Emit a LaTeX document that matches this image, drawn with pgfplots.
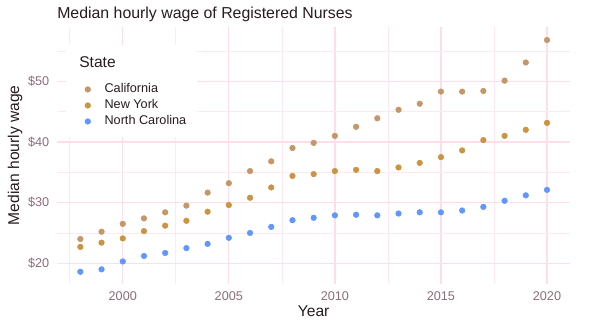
\documentclass[border=0pt]{standalone}
\usepackage{pgfplots}
\pgfplotsset{compat=1.18}
\usepackage{fontspec}
\setmainfont{Liberation Sans}
\definecolor{caC}{RGB}{196,150,104}
\definecolor{nyC}{RGB}{203,148,64}
\definecolor{ncC}{RGB}{98,150,255}
\definecolor{gridM}{RGB}{255,222,232}
\definecolor{gridm}{RGB}{255,232,240}
\definecolor{tickC}{RGB}{139,107,122}
\definecolor{txtC}{RGB}{40,28,34}
\begin{document}
\begin{tikzpicture}
\path[use as bounding box] (0,0) rectangle (442.5pt,252pt);
\begin{axis}[
 at={(42.75pt,39.3pt)}, anchor=south west,
 scale only axis, width=385pt, height=192.45pt,
 xmin=1996.9, xmax=2021.1, ymin=16.65, ymax=58.95,
 axis line style={draw=none}, tick style={draw=none},
 xtick={2000,2005,2010,2015,2020}, xticklabels={2000,2005,2010,2015,2020},
 minor xtick={1997.5,2002.5,2007.5,2012.5,2017.5},
 ytick={20,30,40,50}, yticklabels={\$20,\$30,\$40,\$50},
 minor ytick={25,35,45,55},
 grid=both,
 major grid style={gridM, line width=1.0pt},
 minor grid style={gridm, line width=0.5pt},
 ticklabel style={font=\fontsize{9.5}{11}\selectfont, text=tickC},
 xticklabel style={anchor=north, inner sep=0pt, yshift=-6pt},
 yticklabel style={anchor=east, inner sep=0pt, xshift=-5.6pt},
 every axis title shift=0pt,
 title={Median hourly wage of Registered Nurses},
 title style={at={(rel axis cs:0,1.034)}, anchor=base west, font=\fontsize{11.9}{14}\selectfont, text=txtC, inner sep=0pt},
 xlabel={Year},
 xlabel style={at={(rel axis cs:0.5,-0.130)}, anchor=base, font=\fontsize{11.7}{14}\selectfont, text=txtC, inner sep=0pt},
 ylabel={Median hourly wage},
 ylabel style={at={(rel axis cs:-0.0818,0.5)}, anchor=center, font=\fontsize{11.7}{14}\selectfont, text=txtC, inner sep=0pt},
 legend style={at={(rel axis cs:0.054,0.781)}, anchor=north west, draw=none, fill=none, inner sep=0pt, row sep=3.0pt,
   nodes={inner sep=0pt, text height=7pt, text depth=2pt},
   font=\fontsize{9.5}{11}\selectfont, text=txtC,
   /tikz/every odd column/.append style={column sep=10.5pt}},
 legend cell align=left,
 legend image code/.code={\draw[#1] plot coordinates {(0pt,0pt)};},
]
\fill[white] (rel axis cs:0.0175,0.571) rectangle (rel axis cs:0.2727,0.930);
\node[anchor=base west, inner sep=0pt, font=\fontsize{11.7}{14}\selectfont, text=txtC] at (rel axis cs:0.0429,0.841) {State};
\addplot[only marks, mark=*, mark size=2.1pt, color=caC, mark options={draw=none, fill=caC}] coordinates {
(1998,24.0) (1999,25.2) (2000,26.5) (2001,27.4) (2002,28.4) (2003,29.5) (2004,31.65) (2005,33.2)
(2006,35.2) (2007,36.8) (2008,39.0) (2009,39.85) (2010,41.0) (2011,42.5) (2012,43.9) (2013,45.3)
(2014,46.3) (2015,48.3) (2016,48.3) (2017,48.4) (2018,50.1) (2019,53.1) (2020,56.8)};
\addlegendentry{California}
\addplot[only marks, mark=*, mark size=2.1pt, color=nyC, mark options={draw=none, fill=nyC}] coordinates {
(1998,22.7) (1999,23.4) (2000,24.1) (2001,25.3) (2002,26.2) (2003,27.0) (2004,28.5) (2005,29.6)
(2006,30.8) (2007,32.5) (2008,34.4) (2009,34.7) (2010,35.2) (2011,35.4) (2012,35.2) (2013,35.8)
(2014,36.55) (2015,37.5) (2016,38.6) (2017,40.3) (2018,41.0) (2019,42.0) (2020,43.15)};
\addlegendentry{New York}
\addplot[only marks, mark=*, mark size=2.1pt, color=ncC, mark options={draw=none, fill=ncC}] coordinates {
(1998,18.6) (1999,19.0) (2000,20.3) (2001,21.2) (2002,21.7) (2003,22.5) (2004,23.2) (2005,24.2)
(2006,25.0) (2007,26.0) (2008,27.1) (2009,27.5) (2010,27.9) (2011,28.0) (2012,27.9) (2013,28.2)
(2014,28.4) (2015,28.4) (2016,28.7) (2017,29.3) (2018,30.3) (2019,31.2) (2020,32.1)};
\addlegendentry{North Carolina}
\end{axis}
\end{tikzpicture}
\end{document}
